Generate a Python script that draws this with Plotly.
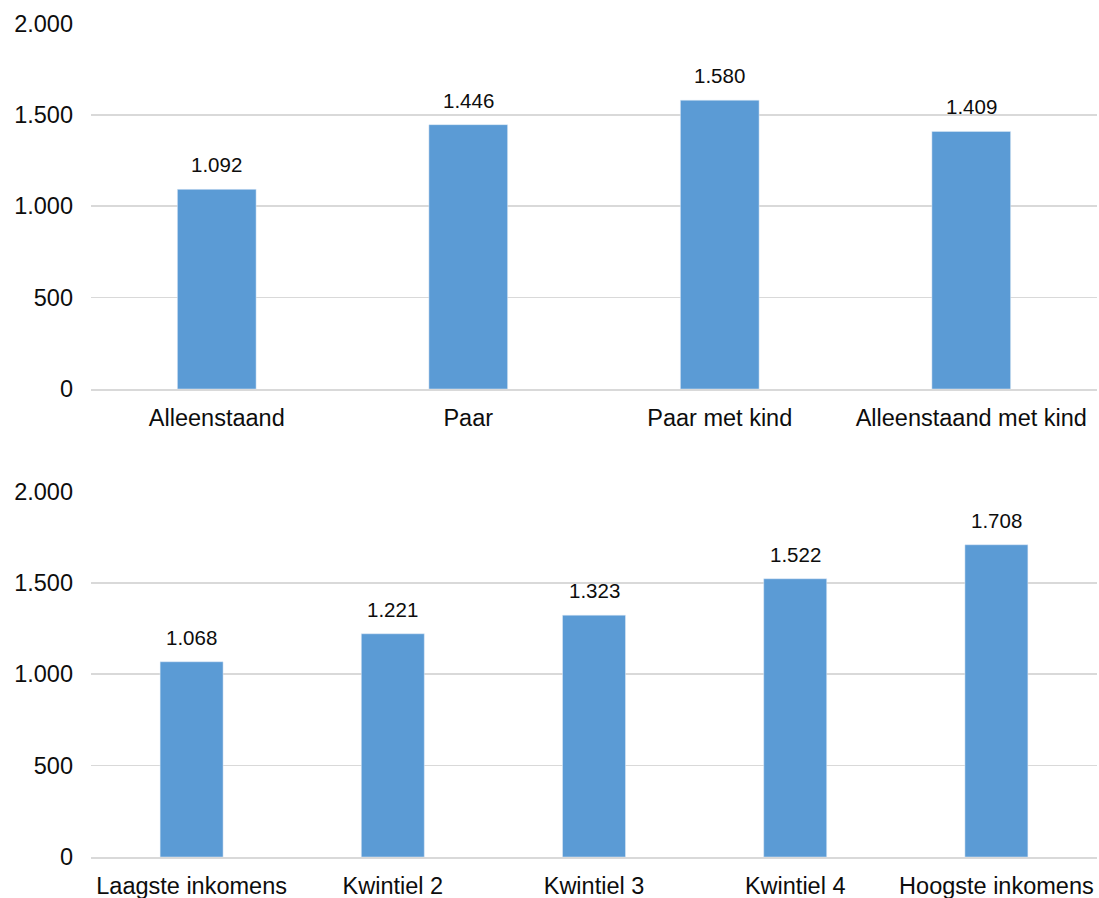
import plotly.graph_objects as go
from plotly.subplots import make_subplots

hh_categories = ["Alleenstaand", "Paar", "Paar met kind", "Alleenstaand met kind"]
hh_values = [1092, 1446, 1580, 1409]

inc_categories = ["Laagste inkomens", "Kwintiel 2", "Kwintiel 3", "Kwintiel 4", "Hoogste inkomens"]
inc_values = [1068, 1221, 1323, 1522, 1708]

y_ticks = [0, 500, 1000, 1500, 2000]

W, H = 1099, 898
BAR = "#5b9bd5"
GRID = "#d9d9d9"
TXT = "#0d0d0d"
FONT = "Liberation Sans, Arial, sans-serif"
AX = 23.5
LBL = 20.5

fig = make_subplots(rows=2, cols=1)

fig.add_trace(go.Bar(x=hh_categories, y=hh_values, marker_color=BAR, hoverinfo="skip"), row=1, col=1)
fig.add_trace(go.Bar(x=inc_categories, y=inc_values, marker_color=BAR, hoverinfo="skip"), row=2, col=1)

for xs, ys, xr, yr in [(hh_categories, hh_values, "x", "y"), (inc_categories, inc_values, "x2", "y2")]:
    for c, v in zip(xs, ys):
        fig.add_annotation(x=c, y=v, xref=xr, yref=yr, text=f"{v:,}".replace(",", "."),
                           showarrow=False, yanchor="bottom", yshift=11,
                           font=dict(size=LBL, color=TXT, family=FONT))

def px2paper(y):
    return (H - y) / H

yax = dict(range=[0, 2002], tickvals=y_ticks, tickformat=",d", showgrid=True, gridcolor=GRID,
           gridwidth=1.5, zeroline=False, showline=False, ticks="", ticklabelstandoff=17,
           tickfont=dict(size=AX), automargin=False, fixedrange=True)
xax = dict(showline=True, linecolor=GRID, linewidth=1.5, ticks="", tickfont=dict(size=AX),
           ticklabelstandoff=7, automargin=False, fixedrange=True)

fig.update_layout(
    width=W, height=H,
    margin=dict(l=91, r=2, t=0, b=0),
    paper_bgcolor="white", plot_bgcolor="white",
    showlegend=False,
    bargap=0.687,
    separators=",.",
    font=dict(family=FONT, color=TXT, size=AX),
    yaxis=dict(domain=[px2paper(389), px2paper(23)], **yax),
    yaxis2=dict(domain=[px2paper(857), px2paper(491)], **yax),
    xaxis=dict(**xax),
    xaxis2=dict(**xax),
)

fig.write_html("out.html",
               config={"displayModeBar": False, "staticPlot": True},
               post_script="document.body.style.margin='0';document.body.style.overflow='hidden';")
